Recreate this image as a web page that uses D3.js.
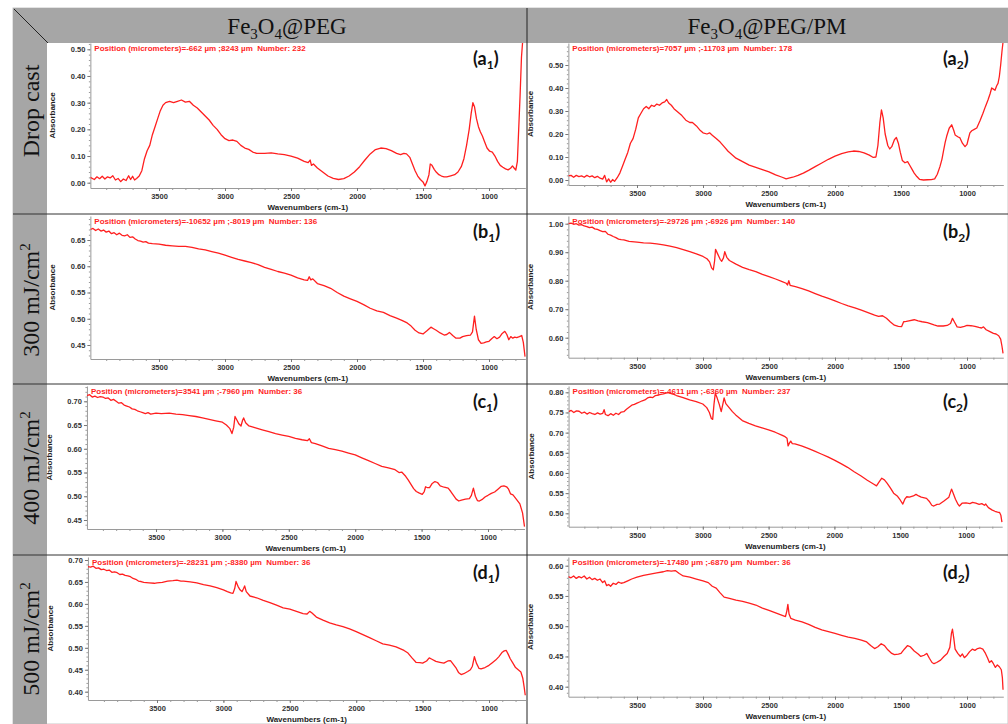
<!DOCTYPE html>
<html>
<head>
<meta charset="utf-8">
<script src="https://cdn.jsdelivr.net/npm/d3@7"></script>
<style>
body { margin: 0; background: #fff; }
svg { display: block; }
</style>
</head>
<body>
<svg width="1008" height="724"></svg>
<script>
// spectra: [wavenumber (cm-1), absorbance]
var a1 = [[4020,.020],[3990,.012],[3970,.022],[3950,.015],[3930,.024],[3910,.014],[3890,.022],[3870,.018],[3850,.026],[3830,.010],[3810,.016],[3790,.004],[3770,.014],[3750,.008],[3730,.026],[3715,.012],[3700,.024],[3685,.010],[3670,.016],[3650,.025],[3630,.045],[3610,.09],[3590,.12],[3570,.14],[3550,.18],[3530,.21],[3510,.24],[3490,.27],[3470,.29],[3450,.30],[3420,.305],[3390,.30],[3360,.305],[3330,.31],[3300,.302],[3270,.305],[3240,.29],[3210,.28],[3180,.265],[3150,.25],[3120,.235],[3090,.215],[3060,.20],[3030,.18],[3000,.165],[2970,.158],[2940,.16],[2910,.155],[2880,.14],[2850,.13],[2820,.125],[2790,.115],[2760,.11],[2700,.11],[2650,.112],[2600,.108],[2550,.105],[2500,.10],[2450,.092],[2400,.08],[2370,.075],[2355,.085],[2345,.065],[2330,.07],[2300,.055],[2260,.04],[2220,.025],[2180,.016],[2140,.012],[2100,.015],[2060,.025],[2020,.04],[1980,.06],[1940,.085],[1900,.108],[1860,.124],[1820,.13],[1780,.128],[1740,.12],[1700,.11],[1670,.105],[1645,.11],[1625,.108],[1600,.095],[1580,.07],[1560,.045],[1540,.025],[1520,.012],[1500,.003],[1485,-.012],[1470,.005],[1455,.03],[1445,.07],[1432,.065],[1415,.05],[1400,.04],[1380,.03],[1360,.025],[1340,.022],[1320,.022],[1290,.026],[1260,.03],[1235,.04],[1210,.06],[1190,.09],[1170,.14],[1150,.2],[1135,.26],[1122,.3],[1110,.285],[1095,.24],[1080,.21],[1065,.19],[1050,.175],[1035,.155],[1015,.13],[995,.118],[975,.115],[955,.1],[935,.08],[915,.065],[895,.058],[875,.052],[855,.048],[835,.055],[822,.063],[810,.055],[797,.047],[785,.08],[775,.2],[765,.32],[754,.47],[745,.53]];

var a2 = [[4020,.018],[4000,.02],[3980,.012],[3960,.02],[3940,.015],[3920,.018],[3900,.012],[3880,.02],[3860,.014],[3840,.018],[3820,.01],[3800,.016],[3780,.008],[3760,.004],[3745,.02],[3730,-.008],[3715,.005],[3700,-.01],[3685,.002],[3670,-.006],[3650,.01],[3630,.03],[3610,.06],[3590,.09],[3570,.12],[3550,.16],[3530,.18],[3510,.22],[3490,.27],[3470,.29],[3450,.31],[3430,.32],[3410,.31],[3390,.325],[3370,.32],[3350,.33],[3330,.325],[3310,.335],[3290,.34],[3275,.35],[3260,.335],[3240,.325],[3220,.31],[3200,.30],[3180,.29],[3160,.28],[3130,.26],[3100,.25],[3080,.25],[3050,.235],[3020,.215],[3000,.205],[2970,.20],[2950,.205],[2930,.195],[2900,.18],[2870,.165],[2840,.145],[2810,.125],[2780,.11],[2750,.095],[2700,.08],[2650,.065],[2600,.055],[2550,.045],[2500,.035],[2450,.022],[2400,.012],[2370,.005],[2350,.008],[2320,.012],[2280,.02],[2240,.03],[2200,.042],[2150,.058],[2100,.074],[2050,.09],[2000,.104],[1950,.115],[1900,.122],[1860,.126],[1820,.124],[1780,.118],[1740,.108],[1710,.098],[1690,.10],[1675,.15],[1660,.25],[1648,.305],[1635,.27],[1620,.2],[1600,.15],[1585,.135],[1570,.145],[1550,.175],[1535,.185],[1520,.16],[1505,.12],[1490,.085],[1470,.075],[1450,.08],[1435,.065],[1415,.045],[1400,.03],[1380,.015],[1360,.003],[1330,0],[1300,.001],[1270,.002],[1245,.005],[1225,.025],[1205,.058],[1190,.09],[1179,.123],[1165,.165],[1154,.19],[1135,.225],[1116,.24],[1100,.215],[1090,.196],[1070,.188],[1053,.183],[1035,.16],[1015,.145],[1000,.155],[992,.174],[978,.205],[964,.214],[945,.22],[926,.226],[900,.26],[879,.29],[860,.32],[841,.348],[825,.375],[813,.40],[800,.395],[788,.39],[775,.41],[765,.42],[755,.45],[745,.50],[735,.56],[727,.60]];

var b1 = [[4020,.670],[4000,.672],[3980,.668],[3960,.671],[3940,.667],[3920,.669],[3900,.665],[3880,.667],[3860,.662],[3840,.664],[3820,.660],[3800,.663],[3780,.659],[3760,.658],[3740,.660],[3720,.655],[3700,.656],[3680,.652],[3660,.649],[3640,.648],[3620,.646],[3600,.647],[3580,.644],[3550,.643],[3500,.642],[3450,.64],[3400,.639],[3350,.638],[3300,.638],[3250,.636],[3200,.633],[3150,.631],[3100,.628],[3050,.625],[3000,.621],[2950,.617],[2900,.613],[2850,.61],[2800,.607],[2750,.603],[2700,.598],[2650,.594],[2600,.59],[2550,.587],[2500,.583],[2450,.578],[2400,.574],[2375,.573],[2362,.58],[2350,.574],[2335,.576],[2300,.567],[2250,.563],[2200,.558],[2150,.55],[2100,.543],[2050,.538],[2000,.533],[1950,.527],[1900,.52],[1850,.515],[1800,.512],[1750,.506],[1700,.501],[1660,.497],[1620,.492],[1590,.486],[1560,.478],[1530,.473],[1500,.471],[1470,.477],[1440,.484],[1420,.481],[1400,.478],[1370,.473],[1340,.469],[1320,.47],[1300,.474],[1275,.468],[1250,.463],[1220,.463],[1200,.466],[1170,.468],[1140,.469],[1125,.475],[1110,.505],[1097,.48],[1080,.46],[1060,.453],[1040,.454],[1020,.456],[1000,.457],[980,.462],[960,.466],[940,.462],[920,.465],[900,.472],[880,.476],[865,.47],[850,.46],[835,.466],[820,.463],[805,.465],[790,.464],[770,.466],[752,.468],[740,.455],[727,.428]];

var b2 = [[4020,1.0],[4000,1.002],[3980,.998],[3960,1.0],[3940,.995],[3920,.997],[3900,.992],[3880,.99],[3860,.986],[3840,.988],[3820,.982],[3800,.98],[3780,.976],[3760,.972],[3740,.973],[3720,.963],[3700,.96],[3680,.955],[3660,.951],[3640,.946],[3620,.944],[3600,.943],[3560,.938],[3500,.935],[3450,.933],[3400,.932],[3350,.929],[3300,.926],[3250,.921],[3200,.916],[3150,.909],[3100,.902],[3050,.894],[3000,.885],[2970,.877],[2950,.866],[2935,.845],[2922,.838],[2912,.87],[2905,.91],[2890,.895],[2870,.875],[2858,.868],[2845,.88],[2835,.902],[2820,.882],[2800,.871],[2750,.858],[2700,.847],[2650,.839],[2600,.832],[2550,.822],[2500,.814],[2450,.806],[2400,.797],[2370,.791],[2360,.785],[2350,.80],[2340,.784],[2300,.779],[2250,.772],[2200,.764],[2150,.755],[2100,.746],[2050,.738],[2000,.729],[1950,.72],[1900,.712],[1850,.705],[1800,.697],[1750,.688],[1700,.679],[1670,.675],[1640,.677],[1610,.668],[1580,.655],[1550,.644],[1520,.640],[1495,.639],[1480,.656],[1460,.657],[1440,.659],[1400,.663],[1370,.659],[1340,.656],[1300,.653],[1250,.645],[1220,.641],[1180,.641],[1150,.643],[1125,.650],[1110,.668],[1095,.655],[1075,.638],[1050,.636],[1020,.64],[1000,.643],[970,.642],[940,.64],[910,.636],[890,.634],[875,.638],[855,.628],[830,.622],[800,.615],[780,.613],[760,.607],[745,.595],[735,.57],[727,.545]];

var c1 = [[4020,.712],[4000,.714],[3980,.709],[3960,.711],[3940,.708],[3920,.710],[3900,.709],[3880,.706],[3860,.707],[3840,.702],[3820,.704],[3800,.700],[3780,.696],[3760,.697],[3740,.692],[3720,.690],[3700,.688],[3680,.684],[3660,.683],[3640,.680],[3620,.678],[3600,.676],[3580,.674],[3560,.676],[3540,.673],[3500,.675],[3460,.674],[3400,.675],[3350,.673],[3300,.672],[3250,.670],[3200,.668],[3150,.665],[3100,.662],[3050,.659],[3000,.656],[2970,.650],[2945,.643],[2928,.632],[2915,.645],[2905,.668],[2890,.66],[2875,.652],[2860,.648],[2848,.66],[2840,.665],[2825,.655],[2800,.648],[2750,.644],[2700,.640],[2650,.636],[2600,.632],[2550,.629],[2500,.626],[2450,.622],[2400,.619],[2360,.617],[2345,.621],[2330,.613],[2300,.611],[2250,.606],[2200,.601],[2150,.598],[2100,.595],[2050,.591],[2000,.587],[1950,.581],[1900,.575],[1850,.569],[1800,.563],[1750,.56],[1700,.556],[1670,.550],[1650,.551],[1620,.542],[1600,.534],[1580,.525],[1560,.516],[1540,.51],[1520,.507],[1495,.504],[1480,.51],[1470,.52],[1455,.518],[1440,.518],[1420,.527],[1400,.531],[1380,.529],[1360,.522],[1330,.519],[1300,.517],[1280,.51],[1260,.502],[1240,.494],[1220,.490],[1200,.492],[1170,.494],[1140,.495],[1125,.502],[1110,.517],[1095,.5],[1080,.491],[1065,.490],[1040,.494],[1020,.499],[1000,.502],[975,.506],[950,.509],[925,.515],[900,.521],[880,.522],[860,.520],[845,.515],[830,.505],[812,.503],[790,.495],[760,.484],[740,.465],[725,.436]];

var c2 = [[4020,.752],[4000,.755],[3980,.75],[3960,.754],[3940,.753],[3920,.748],[3900,.751],[3880,.746],[3860,.75],[3840,.747],[3820,.745],[3800,.749],[3780,.746],[3760,.748],[3750,.757],[3740,.745],[3720,.742],[3700,.747],[3680,.743],[3660,.748],[3640,.745],[3620,.751],[3600,.752],[3580,.758],[3560,.763],[3540,.768],[3520,.770],[3500,.773],[3480,.776],[3460,.779],[3440,.781],[3420,.786],[3400,.788],[3380,.787],[3360,.792],[3340,.793],[3320,.795],[3300,.796],[3280,.798],[3260,.799],[3240,.797],[3220,.795],[3200,.792],[3150,.787],[3100,.781],[3050,.777],[3000,.771],[2970,.762],[2950,.75],[2935,.735],[2925,.733],[2915,.77],[2905,.798],[2890,.785],[2875,.77],[2860,.752],[2848,.77],[2838,.786],[2825,.772],[2800,.762],[2775,.752],[2750,.744],[2700,.73],[2650,.723],[2600,.717],[2550,.712],[2500,.707],[2450,.701],[2400,.694],[2375,.69],[2360,.686],[2352,.667],[2342,.674],[2332,.679],[2320,.673],[2300,.672],[2250,.667],[2200,.661],[2150,.654],[2100,.647],[2050,.64],[2000,.632],[1950,.623],[1900,.614],[1850,.603],[1800,.593],[1750,.582],[1700,.572],[1680,.568],[1660,.578],[1640,.587],[1620,.583],[1600,.575],[1575,.563],[1550,.55],[1520,.542],[1500,.533],[1480,.523],[1465,.535],[1450,.541],[1430,.54],[1400,.543],[1380,.547],[1360,.543],[1340,.54],[1300,.537],[1280,.53],[1260,.52],[1245,.518],[1220,.522],[1200,.523],[1170,.53],[1150,.535],[1130,.54],[1110,.56],[1095,.548],[1080,.535],[1060,.522],[1050,.518],[1030,.525],[1000,.526],[970,.524],[950,.527],[925,.525],[900,.522],[880,.524],[860,.52],[850,.523],[830,.514],[800,.508],[780,.505],[760,.503],[745,.502],[735,.495],[727,.478]];

var d1 = [[4020,.685],[4000,.684],[3980,.686],[3960,.681],[3940,.682],[3920,.678],[3900,.679],[3880,.676],[3860,.677],[3840,.672],[3820,.673],[3800,.671],[3780,.667],[3760,.668],[3740,.665],[3720,.664],[3700,.662],[3680,.658],[3660,.656],[3640,.652],[3620,.651],[3600,.649],[3560,.648],[3520,.647],[3500,.648],[3460,.649],[3420,.652],[3380,.653],[3350,.654],[3320,.652],[3300,.652],[3250,.650],[3200,.648],[3150,.644],[3100,.641],[3050,.637],[3000,.632],[2970,.628],[2945,.625],[2928,.624],[2915,.635],[2905,.651],[2890,.64],[2875,.632],[2860,.628],[2848,.635],[2840,.641],[2828,.628],[2800,.618],[2750,.614],[2700,.608],[2650,.603],[2600,.597],[2550,.591],[2500,.588],[2450,.583],[2400,.578],[2370,.577],[2350,.583],[2335,.58],[2300,.57],[2250,.563],[2200,.557],[2150,.552],[2100,.548],[2050,.543],[2000,.537],[1950,.53],[1900,.523],[1850,.516],[1800,.509],[1750,.506],[1700,.502],[1670,.498],[1640,.494],[1610,.488],[1580,.477],[1550,.467],[1520,.466],[1500,.465],[1470,.47],[1450,.477],[1430,.474],[1400,.469],[1370,.467],[1340,.465],[1310,.47],[1290,.471],[1270,.463],[1250,.455],[1230,.444],[1210,.439],[1190,.441],[1160,.446],[1140,.45],[1125,.458],[1110,.48],[1095,.465],[1075,.453],[1060,.452],[1030,.455],[1000,.46],[975,.466],[950,.472],[925,.48],[900,.49],[885,.493],[870,.494],[855,.485],[840,.475],[820,.465],[800,.455],[780,.45],[760,.445],[745,.43],[735,.41],[727,.392]];

var d2 = [[4020,.582],[4000,.58],[3980,.583],[3960,.579],[3940,.582],[3920,.58],[3900,.583],[3880,.578],[3860,.581],[3840,.577],[3820,.579],[3800,.576],[3780,.578],[3760,.572],[3745,.575],[3730,.567],[3715,.569],[3700,.566],[3680,.571],[3660,.569],[3640,.573],[3620,.571],[3600,.572],[3570,.575],[3540,.578],[3500,.581],[3450,.584],[3400,.586],[3350,.588],[3300,.590],[3270,.592],[3240,.591],[3210,.592],[3180,.587],[3150,.583],[3100,.581],[3050,.578],[3000,.575],[2960,.572],[2930,.566],[2900,.563],[2870,.555],[2840,.548],[2800,.546],[2750,.543],[2700,.541],[2650,.538],[2600,.535],[2550,.53],[2500,.526],[2450,.522],[2400,.518],[2375,.516],[2365,.525],[2357,.536],[2348,.52],[2335,.513],[2300,.51],[2250,.507],[2200,.503],[2150,.498],[2100,.494],[2050,.491],[2000,.488],[1950,.485],[1900,.482],[1850,.48],[1800,.477],[1760,.474],[1730,.468],[1700,.463],[1675,.466],[1650,.471],[1625,.468],[1600,.461],[1570,.455],[1550,.453],[1520,.454],[1500,.455],[1475,.462],[1450,.468],[1430,.466],[1400,.459],[1370,.454],[1350,.45],[1325,.452],[1305,.455],[1285,.447],[1265,.44],[1250,.438],[1230,.44],[1200,.444],[1175,.45],[1150,.455],[1130,.465],[1118,.488],[1110,.495],[1100,.48],[1090,.462],[1070,.455],[1050,.45],[1035,.454],[1020,.448],[1000,.452],[980,.458],[960,.462],[940,.46],[920,.463],[900,.464],[880,.462],[860,.455],[845,.448],[830,.44],[815,.443],[800,.438],[785,.432],[770,.436],[755,.433],[740,.428],[732,.415],[727,.395]];

var columnTitles = [["Fe", "3", "O", "4", "@PEG"], ["Fe", "3", "O", "4", "@PEG/PM"]];
var rowTitles = [["Drop cast", ""], ["300 mJ/cm", "2"], ["400 mJ/cm", "2"], ["500 mJ/cm", "2"]];
var xTickValues = [3500, 3000, 2500, 2000, 1500, 1000];
var xDomain = [4020, 725];
var infoTexts = {
  a1: "Position (micrometers)=-662 \u00b5m ;8243 \u00b5m  Number: 232",
  a2: "Position (micrometers)=7057 \u00b5m ;-11703 \u00b5m  Number: 178",
  b1: "Position (micrometers)=-10652 \u00b5m ;-8019 \u00b5m  Number: 136",
  b2: "Position (micrometers)=-29726 \u00b5m ;-6926 \u00b5m  Number: 140",
  c1: "Position (micrometers)=3541 \u00b5m ;-7960 \u00b5m  Number: 36",
  c2: "Position (micrometers)=-4611 \u00b5m ;-6360 \u00b5m  Number: 237",
  d1: "Position (micrometers)=-28231 \u00b5m ;-8380 \u00b5m  Number: 36",
  d2: "Position (micrometers)=-17480 \u00b5m ;-6870 \u00b5m  Number: 36"
};
var yTickSets = {
  a1: [0, .1, .2, .3, .4, .5],
  a2: [0, .1, .2, .3, .4, .5],
  b1: [.45, .5, .55, .6, .65],
  b2: [.6, .7, .8, .9, 1.0],
  c1: [.45, .5, .55, .6, .65, .7],
  c2: [.5, .55, .6, .65, .7, .75, .8],
  d1: [.4, .45, .5, .55, .6, .65, .7],
  d2: [.4, .45, .5, .55, .6]
};

// layout of each plot: pixel of 3500 and 1000 on x, two reference ticks on y, plot top/bottom
var panels = [
  {key: "a1", data: a1, col: 0, x35: 159, x10: 489, yv: [0, .5],  yp: [182.7, 49.3], top: 43, bottom: 188},
  {key: "a2", data: a2, col: 1, x35: 637, x10: 967, yv: [0, .5],  yp: [180, 65],     top: 43, bottom: 185},
  {key: "b1", data: b1, col: 0, x35: 159, x10: 489, yv: [.45, .65], yp: [345, 240],   top: 216, bottom: 359},
  {key: "b2", data: b2, col: 1, x35: 637, x10: 967, yv: [.6, 1.0], yp: [337.7, 223.7], top: 216, bottom: 357.7},
  {key: "c1", data: c1, col: 0, x35: 156, x10: 488, yv: [.45, .7], yp: [520, 401.3], top: 386, bottom: 529},
  {key: "c2", data: c2, col: 1, x35: 637, x10: 966, yv: [.5, .8],  yp: [513.3, 392.3], top: 386, bottom: 526.7},
  {key: "d1", data: d1, col: 0, x35: 157, x10: 489, yv: [.4, .7],  yp: [691.7, 560], top: 557, bottom: 700},
  {key: "d2", data: d2, col: 1, x35: 637, x10: 967, yv: [.4, .6],  yp: [686.7, 565.7], top: 557, bottom: 696.7}
];

var svg = d3.select("svg"),
    width = +svg.attr("width"),
    height = +svg.attr("height");

var gray = "#a6a6a6",
    red = "#ff1f1f",
    sans = "'Liberation Sans', Arial, sans-serif",
    serif = "'Liberation Serif', 'Times New Roman', serif";

// frame: grey header band and grey row-title column
svg.append("rect").attr("x", 13).attr("y", 8).attr("width", width - 13).attr("height", height - 8)
    .attr("fill", "#fff").attr("stroke", "#c8c8c8");
svg.append("rect").attr("x", 13).attr("y", 8).attr("width", width - 13).attr("height", 35).attr("fill", gray);
svg.append("rect").attr("x", 13).attr("y", 8).attr("width", 34).attr("height", height - 8).attr("fill", gray);
svg.append("line").attr("x1", 14).attr("y1", 9).attr("x2", 48).attr("y2", 43)
    .attr("stroke", "#222").attr("stroke-width", 1);

var defs = svg.append("defs");

panels.forEach(function(p) {
  var k = (p.x10 - p.x35) / 2500;
  var x = d3.scaleLinear()
      .domain(xDomain)
      .range([p.x35 - (xDomain[0] - 3500) * k, p.x10 + (1000 - xDomain[1]) * k]);
  var yRef = d3.scaleLinear().domain(p.yv).range(p.yp);
  var y = d3.scaleLinear()
      .domain([yRef.invert(p.bottom), yRef.invert(p.top)])
      .range([p.bottom, p.top]);
  var left = x.range()[0], right = x.range()[1];
  var step = yTickSets[p.key][1] - yTickSets[p.key][0];

  var g = svg.append("g").attr("class", "panel " + p.key);

  // minor ticks
  var minorY = d3.range(y.domain()[0], y.domain()[1], step / 5)
      .map(function(v) { return Math.round(v / (step / 5)) * (step / 5); })
      .filter(function(v) { return v >= y.domain()[0] && v <= y.domain()[1]; });
  g.append("g")
      .attr("transform", "translate(" + left + ",0)")
      .call(d3.axisLeft(y).tickValues(minorY).tickFormat("").tickSize(1.5).tickSizeOuter(0))
      .call(function(s) { s.select(".domain").remove(); s.selectAll("line").attr("stroke", "#999"); });
  g.append("g")
      .attr("transform", "translate(0," + p.bottom + ")")
      .call(d3.axisBottom(x).tickValues(d3.range(3900, 749, -100)).tickFormat("").tickSize(2).tickSizeOuter(0))
      .call(function(s) { s.select(".domain").remove(); s.selectAll("line").attr("stroke", "#999"); });

  var yAxis = g.append("g")
      .attr("transform", "translate(" + left + ",0)")
      .call(d3.axisLeft(y).tickValues(yTickSets[p.key]).tickFormat(d3.format(".2f"))
        .tickSize(3).tickPadding(2).tickSizeOuter(0));
  var xAxis = g.append("g")
      .attr("transform", "translate(0," + p.bottom + ")")
      .call(d3.axisBottom(x).tickValues(xTickValues).tickFormat(d3.format("d"))
        .tickSize(3).tickPadding(3).tickSizeOuter(0));
  [yAxis, xAxis].forEach(function(ax) {
    ax.select(".domain").attr("stroke", "#9a9a9a");
    ax.selectAll(".tick line").attr("stroke", "#777");
    ax.selectAll("text").attr("fill", "#333").attr("font-family", sans)
      .attr("font-weight", "bold").attr("font-size", 7.5);
  });

  g.append("text")
      .attr("transform", "translate(" + (left - 35) + "," + ((p.top + p.bottom) / 2) + ") rotate(-90)")
      .attr("text-anchor", "middle")
      .attr("font-family", sans).attr("font-weight", "bold").attr("font-size", 8).attr("fill", "#222")
      .text("Absorbance");
  g.append("text")
      .attr("x", (left + right) / 2).attr("y", p.bottom + 22)
      .attr("text-anchor", "middle")
      .attr("font-family", sans).attr("font-weight", "bold").attr("font-size", 8).attr("fill", "#222")
      .text("Wavenumbers (cm-1)");

  defs.append("clipPath").attr("id", "clip-" + p.key)
    .append("rect")
      .attr("x", left).attr("y", p.top)
      .attr("width", right - left + 1).attr("height", p.bottom - p.top);

  var line = d3.line()
      .x(function(d) { return x(d[0]); })
      .y(function(d) { return y(d[1]); });

  g.append("path")
      .datum(p.data)
      .attr("clip-path", "url(#clip-" + p.key + ")")
      .attr("fill", "none")
      .attr("stroke", red)
      .attr("stroke-width", 1.3)
      .attr("stroke-linejoin", "round")
      .attr("d", line);

  g.append("text")
      .attr("x", left + 4).attr("y", p.top + 8)
      .style("white-space", "pre")
      .attr("font-family", sans).attr("font-weight", "bold").attr("font-size", 8).attr("fill", red)
      .text(infoTexts[p.key]);

  // panel tag like (a1)
  var tag = g.append("text")
      .attr("x", p.col === 0 ? 473 : 943).attr("y", p.top + 22)
      .attr("font-family", "Lato, 'Open Sans', sans-serif").attr("font-weight", "bold")
      .attr("font-size", 18).attr("fill", "#111");
  tag.append("tspan").text("(" + p.key.charAt(0));
  tag.append("tspan").attr("dy", 4).attr("font-size", 12).text(p.key.charAt(1));
  tag.append("tspan").attr("dy", -4).text(")");
});

// dividers
[214, 384, 555].forEach(function(yy) {
  svg.append("line").attr("x1", 13).attr("x2", width).attr("y1", yy).attr("y2", yy)
      .attr("stroke", "#333").attr("stroke-width", 1);
});
svg.append("line").attr("x1", 527).attr("x2", 527).attr("y1", 8).attr("y2", height)
    .attr("stroke", "#222").attr("stroke-width", 1);

// column titles
var colCenters = [287, 767];
columnTitles.forEach(function(parts, i) {
  var t = svg.append("text")
      .attr("x", colCenters[i]).attr("y", 34)
      .attr("text-anchor", "middle")
      .attr("font-family", serif).attr("font-size", 23).attr("fill", "#111");
  t.append("tspan").text(parts[0]);
  t.append("tspan").attr("dy", 5).attr("font-size", 15).text(parts[1]);
  t.append("tspan").attr("dy", -5).text(parts[2]);
  t.append("tspan").attr("dy", 5).attr("font-size", 15).text(parts[3]);
  t.append("tspan").attr("dy", -5).text(parts[4]);
});

// row titles
var rowCenters = [111, 300, 468, 639];
rowTitles.forEach(function(parts, i) {
  var t = svg.append("text")
      .attr("transform", "translate(39," + rowCenters[i] + ") rotate(-90)")
      .attr("text-anchor", "middle")
      .attr("font-family", serif).attr("font-size", 24).attr("fill", "#111");
  t.append("tspan").text(parts[0]);
  if (parts[1]) t.append("tspan").attr("dy", -9).attr("font-size", 15).text(parts[1]);
});
</script>
</body>
</html>
